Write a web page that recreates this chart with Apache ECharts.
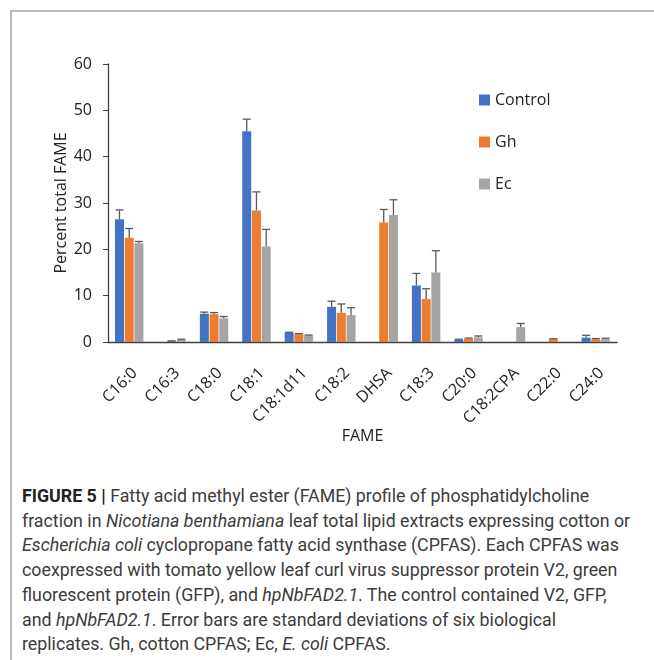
<!DOCTYPE html>
<html>
<head>
<meta charset="utf-8">
<script src="https://cdn.jsdelivr.net/npm/echarts@6/dist/echarts.min.js"></script>
<style>
  html, body { margin: 0; padding: 0; background: #fff; }
  #page { position: relative; width: 654px; height: 660px; overflow: hidden; }
  #frame { position: absolute; left: 10px; top: 10px; right: -4px; bottom: -4px;
           border-top: 2px solid #b9b9b9; border-left: 2px solid #b9b9b9; }
  #chart { position: absolute; left: 0; top: 0; width: 654px; height: 470px; }
  #caption { position: absolute; left: 22px; top: 484px; width: 630px;
             font-family: Roboto, "Liberation Sans", sans-serif; font-size: 17.8px;
             line-height: 24.7px; color: #3c3c3c; white-space: nowrap; }
  #caption b { font-weight: bold; color: #222; }
</style>
</head>
<body>
<div id="page">
  <div id="frame"></div>
  <div id="chart"></div>
  <div id="caption">
    <b>FIGURE 5 |</b> Fatty acid methyl ester (FAME) profile of phosphatidylcholine<br>
    fraction in <i>Nicotiana benthamiana</i> leaf total lipid extracts expressing cotton or<br>
    <i>Escherichia coli</i> cyclopropane fatty acid synthase (CPFAS). Each CPFAS was<br>
    coexpressed with tomato yellow leaf curl virus suppressor protein V2, green<br>
    fluorescent protein (GFP), and <i>hpNbFAD2.1</i>. The control contained V2, GFP,<br>
    and <i>hpNbFAD2.1</i>. Error bars are standard deviations of six biological<br>
    replicates. Gh, cotton CPFAS; Ec, <i>E. coli</i> CPFAS.
  </div>
</div>
<script>
// Fatty acid methyl esters (percent of total FAME), mean and SD
const categories = ['C16:0', 'C16:3', 'C18:0', 'C18:1', 'C18:1d11', 'C18:2', 'DHSA', 'C18:3', 'C20:0', 'C18:2CPA', 'C22:0', 'C24:0'];
const seriesNames = ['Control', 'Gh', 'Ec'];
const controlValues = [26.5, 0, 6.1, 45.5, 2.0, 7.6, 0, 12.2, 0.5, 0, 0, 0.95];
const controlSD     = [2.0, 0, 0.35, 2.6, 0.1, 1.2, 0, 2.6, 0.1, 0, 0, 0.5];
const ghValues      = [22.5, 0.2, 6.0, 28.4, 1.7, 6.3, 25.8, 9.3, 0.7, 0, 0.6, 0.6];
const ghSD          = [2.0, 0.05, 0.35, 4.0, 0.1, 1.9, 2.8, 2.2, 0.15, 0, 0.1, 0.15];
const ecValues      = [21.3, 0.5, 5.1, 20.6, 1.4, 5.8, 27.4, 15.0, 1.0, 3.2, 0, 0.6];
const ecSD          = [0.4, 0.1, 0.4, 3.7, 0.1, 1.6, 3.3, 4.7, 0.3, 0.8, 0, 0.2];
const yTicks = [0, 10, 20, 30, 40, 50, 60];

const colors = ['#4472C4', '#ED7D31', '#A5A5A5'];
const valueSets = [controlValues, ghValues, ecValues];
const sdSets = [controlSD, ghSD, ecSD];

const BAR_W = 9;
const BAR_GAP = 0.08;

const chart = echarts.init(document.getElementById('chart'), null, { renderer: 'canvas' });

// Error bar (upper whisker with cap) for one group member
function errorRenderer(seriesIdx) {
  return function (params, api) {
    const cat = api.value(0);
    const val = api.value(1);
    const sd = api.value(2);
    if (val <= 0) return null;
    const base = api.coord([cat, val]);
    const top = api.coord([cat, val + sd]);
    const shift = (seriesIdx - 1) * BAR_W * (1 + BAR_GAP);
    const x = base[0] + shift;
    const half = 4;
    const style = { stroke: '#595959', lineWidth: 1.3 };
    return {
      type: 'group',
      children: [
        { type: 'line', shape: { x1: x, y1: base[1], x2: x, y2: top[1] }, style },
        { type: 'line', shape: { x1: x - half, y1: top[1], x2: x + half, y2: top[1] }, style }
      ]
    };
  };
}

const barSeries = seriesNames.map((name, i) => ({
  name,
  type: 'bar',
  barWidth: BAR_W,
  barGap: (BAR_GAP * 100) + '%',
  itemStyle: { color: colors[i] },
  data: valueSets[i].map(v => (v > 0 ? v : null)),
  z: 2
}));

const errSeries = seriesNames.map((name, i) => ({
  name: name + ' SD',
  type: 'custom',
  renderItem: errorRenderer(i),
  data: valueSets[i].map((v, k) => [k, v, sdSets[i][k]]),
  encode: { x: 0, y: 1 },
  z: 3,
  silent: true
}));

chart.setOption({
  animation: false,
  textStyle: { fontFamily: '"Open Sans", sans-serif' },
  grid: { left: 108, right: 37, top: 64, bottom: 128 },
  legend: {
    data: seriesNames,
    orient: 'vertical',
    left: 474,
    top: 87,
    icon: 'rect',
    itemWidth: 11,
    itemHeight: 11,
    itemGap: 26,
    textStyle: { fontSize: 16, color: '#222', fontFamily: '"Open Sans", sans-serif', lineHeight: 16 }
  },
  xAxis: {
    type: 'category',
    data: categories,
    name: 'FAME',
    nameLocation: 'middle',
    nameGap: 86,
    nameMoveOverlap: false,
    nameTextStyle: { fontSize: 16, color: '#222' },
    axisLine: { lineStyle: { color: '#404040', width: 1.3 } },
    axisTick: { show: false },
    axisLabel: { rotate: 45, fontSize: 16, color: '#222', margin: 23, interval: 0, verticalAlign: 'top' }
  },
  yAxis: {
    type: 'value',
    min: yTicks[0],
    max: yTicks[yTicks.length - 1],
    interval: 10,
    name: 'Percent total FAME',
    nameLocation: 'middle',
    nameGap: 39,
    nameMoveOverlap: false,
    nameTextStyle: { fontSize: 16, color: '#222' },
    axisLine: { show: true, lineStyle: { color: '#404040', width: 1.3 } },
    axisTick: { show: true, length: 5, lineStyle: { color: '#404040' } },
    axisLabel: { fontSize: 16, color: '#222', margin: 16 },
    splitLine: { show: false }
  },
  series: barSeries.concat(errSeries)
});
</script>
</body>
</html>
